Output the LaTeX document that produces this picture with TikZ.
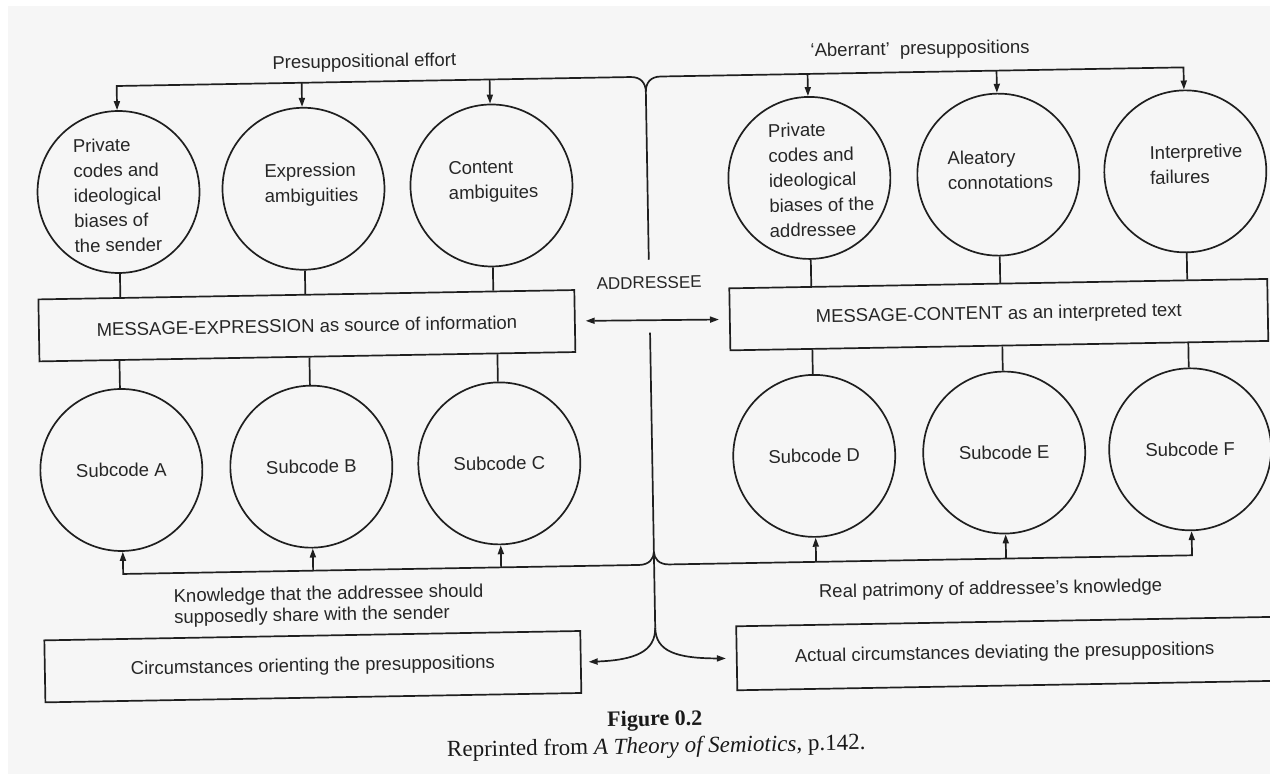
\documentclass[tikz,border=0pt]{standalone}
\usepackage{fontspec}
\setmainfont{Liberation Sans}
\newfontfamily\capfont{Liberation Serif}
\usetikzlibrary{arrows.meta}
\begin{document}
\begin{tikzpicture}[x=1pt,y=-1pt,
  ln/.style={line width=1.7pt,draw=black!88},
  tip/.tip={Triangle[length=9pt,width=6pt]},
  arr/.style={ln,-tip},
  darr/.style={ln,tip-tip},
  circ/.style={ln,circle,minimum size=162pt,inner sep=0pt,font=\fontsize{18.5}{25}\selectfont,text=black!85},
  ctext/.style={font=\fontsize{18.5}{25}\selectfont,align=left,inner sep=0pt,text=black!85},
  box/.style={ln,rectangle,minimum width=536pt,minimum height=62pt,inner sep=0pt,font=\fontsize{18.5}{22}\selectfont,text=black!85},
  lbl/.style={font=\fontsize{18.5}{21}\selectfont,inner sep=0pt,text=black!85},
]
\useasboundingbox (0,0) rectangle (1270,774);
\fill[white] (0,0) rectangle (1270,774);
\fill[gray!7] (8,6) rectangle (1270,774);
\begin{scope}[rotate around={1:(635,387)},transform shape]
% upper circles
\node[circ] (c1) at (122,183) {};
\node[circ] (c2) at (307,183) {};
\node[circ] (c3) at (495,183) {};
\node[circ] (c4) at (813,181) {};
\node[circ] (c5) at (1002,181) {};
\node[circ] (c6) at (1189,181) {};
\node[ctext] (t1) at (121,186) {Private\\codes and\\ideological\\biases of\\the sender};
\node[ctext] (t2) at (315,179) {Expression\\ambiguities};
\node[ctext] (t3) at (497,179) {Content\\ambiguites};
\node[ctext] (t4) at (825,183) {Private\\codes and\\ideological\\biases of the\\addressee};
\node[ctext] (t5) at (1004,176) {Aleatory\\connotations};
\node[ctext] (t6) at (1200,174) {Interpretive\\failures};
% message boxes
\node[box] (me) at (308,320) {MESSAGE-EXPRESSION as source of information};
\node[box,minimum width=538pt] (mc) at (1000,321) {MESSAGE-CONTENT as an interpreted text};
% lower circles
\node[circ] (a) at (120,461) {Subcode A};
\node[circ] (b) at (310,461) {Subcode B};
\node[circ] (cc) at (498,461) {Subcode C};
\node[circ] (d) at (813,459) {Subcode D};
\node[circ] (e) at (1003,459) {Subcode E};
\node[circ] (f) at (1189,459) {Subcode F};
% circumstance boxes
\node[box] (co) at (308,661) {Circumstances orienting the presuppositions};
\node[box,minimum height=64pt] (ac) at (1000,660) {Actual circumstances deviating the presuppositions};
% labels
\node[lbl] (pe) at (370,58) {Presuppositional effort};
\node[lbl] (ab) at (926,55) {`Aberrant'\ \ presuppositions};
\node[lbl,font=\fontsize{17}{20}\selectfont] (addr) at (651,283) {ADDRESSEE};
\node[lbl,align=left,anchor=west] (kn) at (170,600) {Knowledge that the addressee should\\supposedly share with the sender};
\node[lbl] (rp) at (987,596) {Real patrimony of addressee's knowledge};
% connector coordinates
\coordinate (tj) at (651,92);
\coordinate (tL) at (636,77);
\coordinate (tR) at (666,77);
\coordinate (p1) at (122,77);
\coordinate (p2) at (307,77);
\coordinate (p3) at (495,77);
\coordinate (p4) at (813,77);
\coordinate (p5) at (1002,77);
\coordinate (p6) at (1189,77);
\coordinate (vt) at (651,260);
\coordinate (vb) at (651,333);
\coordinate (bj) at (651,552);
\coordinate (sp) at (651,628);
\coordinate (bL) at (636,565);
\coordinate (bR) at (666,565);
\coordinate (q1) at (120,565);
\coordinate (q2) at (310,565);
\coordinate (q3) at (498,565);
\coordinate (q4) at (813,565);
\coordinate (q5) at (1003,565);
\coordinate (q6) at (1189,565);
% top distribution
\draw[arr] (tj) .. controls (651,83) and (646,77) .. (tL) -- (p1) -- (c1.north);
\draw[arr] (p2) -- (c2.north);
\draw[arr] (p3) -- (c3.north);
\draw[arr] (tj) .. controls (651,83) and (656,77) .. (tR) -- (p6) -- (c6.north);
\draw[arr] (p4) -- (c4.north);
\draw[arr] (p5) -- (c5.north);
\draw[ln] (tj) -- (vt);
% circles to boxes
\draw[ln] (c1.south) -- (c1.south |- me.north);
\draw[ln] (c2.south) -- (c2.south |- me.north);
\draw[ln] (c3.south) -- (c3.south |- me.north);
\draw[ln] (c4.south) -- (c4.south |- mc.north);
\draw[ln] (c5.south) -- (c5.south |- mc.north);
\draw[ln] (c6.south) -- (c6.south |- mc.north);
\draw[ln] (a.north |- me.south) -- (a.north);
\draw[ln] (b.north |- me.south) -- (b.north);
\draw[ln] (cc.north |- me.south) -- (cc.north);
\draw[ln] (d.north |- mc.south) -- (d.north);
\draw[ln] (e.north |- mc.south) -- (e.north);
\draw[ln] (f.north |- mc.south) -- (f.north);
% addressee double arrow
\draw[darr] ([xshift=10pt]me.east) -- ([xshift=-10pt]mc.west);
% lower vertical
\draw[ln] (vb) -- (sp);
% bottom knowledge lines
\draw[arr] (bj) .. controls (651,559) and (646,565) .. (bL) -- (q1) -- (a.south);
\draw[arr] (q2) -- (b.south);
\draw[arr] (q3) -- (cc.south);
\draw[arr] (bj) .. controls (651,559) and (656,565) .. (bR) -- (q6) -- (f.south);
\draw[arr] (q4) -- (d.south);
\draw[arr] (q5) -- (e.south);
% split to circumstances
\draw[arr] (sp) .. controls (651,652) and (630,660) .. ([xshift=7pt]co.east);
\draw[arr] (sp) .. controls (651,652) and (672,659) .. ([xshift=-10pt]ac.west);
% caption
\node[font=\capfont\fontsize{22}{26}\selectfont\bfseries,inner sep=0pt,text=black!90] (fig) at (649,721) {Figure 0.2};
\node[font=\capfont\fontsize{23}{26}\selectfont,inner sep=0pt,text=black!90] (rep) at (650,748) {Reprinted from \textit{A Theory of Semiotics}, p.142.};
\end{scope}
\end{tikzpicture}
\end{document}
